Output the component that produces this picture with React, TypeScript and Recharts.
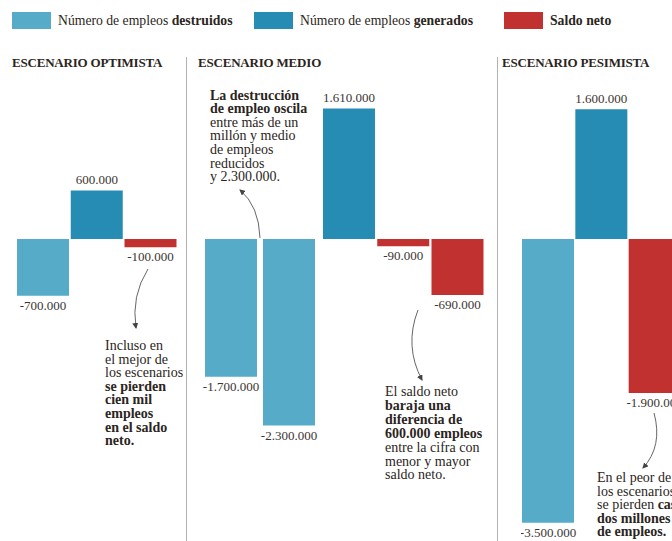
import { Bar, BarChart, Cell, LabelList, XAxis, YAxis } from "recharts";

// Valores por escenario (empleos)
const escenarios = ["ESCENARIO OPTIMISTA", "ESCENARIO MEDIO", "ESCENARIO PESIMISTA"];
const destruidosOptimista = [-700000];
const generadosOptimista = [600000];
const saldoOptimista = [-100000];
const destruidosMedio = [-1700000, -2300000];
const generadosMedio = [1610000];
const saldoMedio = [-90000, -690000];
const destruidosPesimista = [-3500000];
const generadosPesimista = [1600000];
const saldoPesimista = [-1900000];

type Tipo = "destruidos" | "generados" | "saldo";
const COLORS: Record<Tipo, string> = { destruidos: "#56abc8", generados: "#268cb3", saldo: "#c1312f" };
const DOMAIN: [number, number] = [-3700000, 1900000];
const SERIF = "'Liberation Serif', 'DejaVu Serif', serif";
const INK = "#2b2522";

const fmt = (n: number) => (n < 0 ? "-" : "") + Math.abs(n).toString().replace(/\B(?=(\d{3})+(?!\d))/g, ".");

const rows = (id: string, parts: [Tipo, number[]][]) =>
  parts.flatMap(([tipo, vals]) => vals.map((valor, i) => ({ key: `${id}-${tipo}-${i}`, tipo, valor })));

function ValueLabel(props: any) {
  const { x, y, width, height, value } = props;
  const top = Math.min(y, y + height);
  const bottom = Math.max(y, y + height);
  const ty = value < 0 ? bottom + 14 : top - 6.5;
  return (
    <text x={x + width / 2} y={ty} textAnchor="middle" fontFamily={SERIF} fontSize={13} fill="#3b3532">
      {fmt(value)}
    </text>
  );
}

function Group({ data, left, width }: { data: ReturnType<typeof rows>; left: number; width: number }) {
  return (
    <div style={{ position: "absolute", left, top: 85 }}>
      <BarChart width={width} height={454} data={data} margin={{ top: 0, right: 0, bottom: 0, left: 0 }}>
        <XAxis dataKey="key" hide />
        <YAxis type="number" domain={DOMAIN} allowDataOverflow hide />
        <Bar dataKey="valor" barSize={52} isAnimationActive={false}>
          {data.map((r) => (
            <Cell key={r.key} fill={COLORS[r.tipo]} />
          ))}
          <LabelList dataKey="valor" content={ValueLabel} />
        </Bar>
      </BarChart>
    </div>
  );
}

function Lines({ x, y, step, lines }: { x: number; y: number; step: number; lines: [string, boolean][][] }) {
  return (
    <text fontFamily={SERIF} fontSize={14} fill={INK}>
      {lines.map((segs, i) => (
        <tspan key={i} x={x} y={y + i * step}>
          {segs.map(([t, b], j) => (
            <tspan key={j} fontWeight={b ? "bold" : "normal"}>
              {t}
            </tspan>
          ))}
        </tspan>
      ))}
    </text>
  );
}

export default function App() {
  const legend: [Tipo, number, string, string][] = [
    ["destruidos", 12, "Número de empleos ", "destruidos"],
    ["generados", 254, "Número de empleos ", "generados"],
    ["saldo", 504, "", "Saldo neto"],
  ];
  const titleX = [12, 198, 502];

  return (
    <div
      style={{ position: "absolute", left: 0, top: 0, width: 672, height: 541, overflow: "hidden", background: "#fff" }}
    >
      <Group
        data={rows("o", [["destruidos", destruidosOptimista], ["generados", generadosOptimista], ["saldo", saldoOptimista]])}
        left={16.1}
        width={161.25}
      />
      <Group data={rows("md", [["destruidos", destruidosMedio]])} left={201.5} width={116} />
      <Group data={rows("mg", [["generados", generadosMedio], ["saldo", saldoMedio]])} left={321.9} width={162.75} />
      <Group
        data={rows("p", [["destruidos", destruidosPesimista], ["generados", generadosPesimista], ["saldo", saldoPesimista]])}
        left={521.4}
        width={160}
      />

      <svg width={672} height={541} style={{ position: "absolute", left: 0, top: 0, pointerEvents: "none" }}>
        <defs>
          <marker id="head" viewBox="0 0 6 6" refX={5} refY={3} markerWidth={6} markerHeight={6} markerUnits="userSpaceOnUse" orient="auto">
            <path d="M0,0 L6,3 L0,6 z" fill="#444" />
          </marker>
        </defs>

        {legend.map(([tipo, x, reg, bold]) => (
          <g key={tipo}>
            <rect x={x} y={12} width={39} height={17} fill={COLORS[tipo]} />
            <text x={x + 46} y={24.5} fontFamily={SERIF} fontSize={13.7} fill={INK}>
              {reg}
              <tspan fontWeight="bold">{bold}</tspan>
            </text>
          </g>
        ))}

        {escenarios.map((t, i) => (
          <text key={t} x={titleX[i]} y={67} fontFamily={SERIF} fontSize={13} fontWeight="bold" fill={INK} letterSpacing={-0.2}>
            {t}
          </text>
        ))}
        <line x1={186.5} y1={57} x2={186.5} y2={541} stroke="#b5b1ae" />
        <line x1={497.5} y1={57} x2={497.5} y2={541} stroke="#b5b1ae" />

        <g fill="none" stroke="#555" strokeWidth={0.9} markerEnd="url(#head)">
          <path d="M148,269 Q131,296 136,328" />
          <path d="M260,238 Q259,206 240,190" />
          <path d="M418,310 Q404,346 422,380" />
          <path d="M654,413 Q663,446 643,468" />
        </g>

        <Lines
          x={105}
          y={350}
          step={13.6}
          lines={[
            [["Incluso en", false]],
            [["el mejor de", false]],
            [["los escenarios", false]],
            [["se pierden", true]],
            [["cien mil", true]],
            [["empleos", true]],
            [["en el saldo", true]],
            [["neto.", true]],
          ]}
        />
        <Lines
          x={210}
          y={99.5}
          step={13.6}
          lines={[
            [["La destrucción", true]],
            [["de empleo oscila", true]],
            [["entre más de un", false]],
            [["millón y medio", false]],
            [["de empleos", false]],
            [["reducidos", false]],
            [["y 2.300.000.", false]],
          ]}
        />
        <Lines
          x={385}
          y={396}
          step={13.9}
          lines={[
            [["El saldo neto", false]],
            [["baraja una", true]],
            [["diferencia de", true]],
            [["600.000 empleos", true]],
            [["entre la cifra con", false]],
            [["menor y mayor", false]],
            [["saldo neto.", false]],
          ]}
        />
        <Lines
          x={597}
          y={482}
          step={13.6}
          lines={[
            [["En el peor de", false]],
            [["los escenarios", false]],
            [["se pierden ", false], ["casi", true]],
            [["dos millones", true]],
            [["de empleos.", true]],
          ]}
        />
      </svg>
    </div>
  );
}
